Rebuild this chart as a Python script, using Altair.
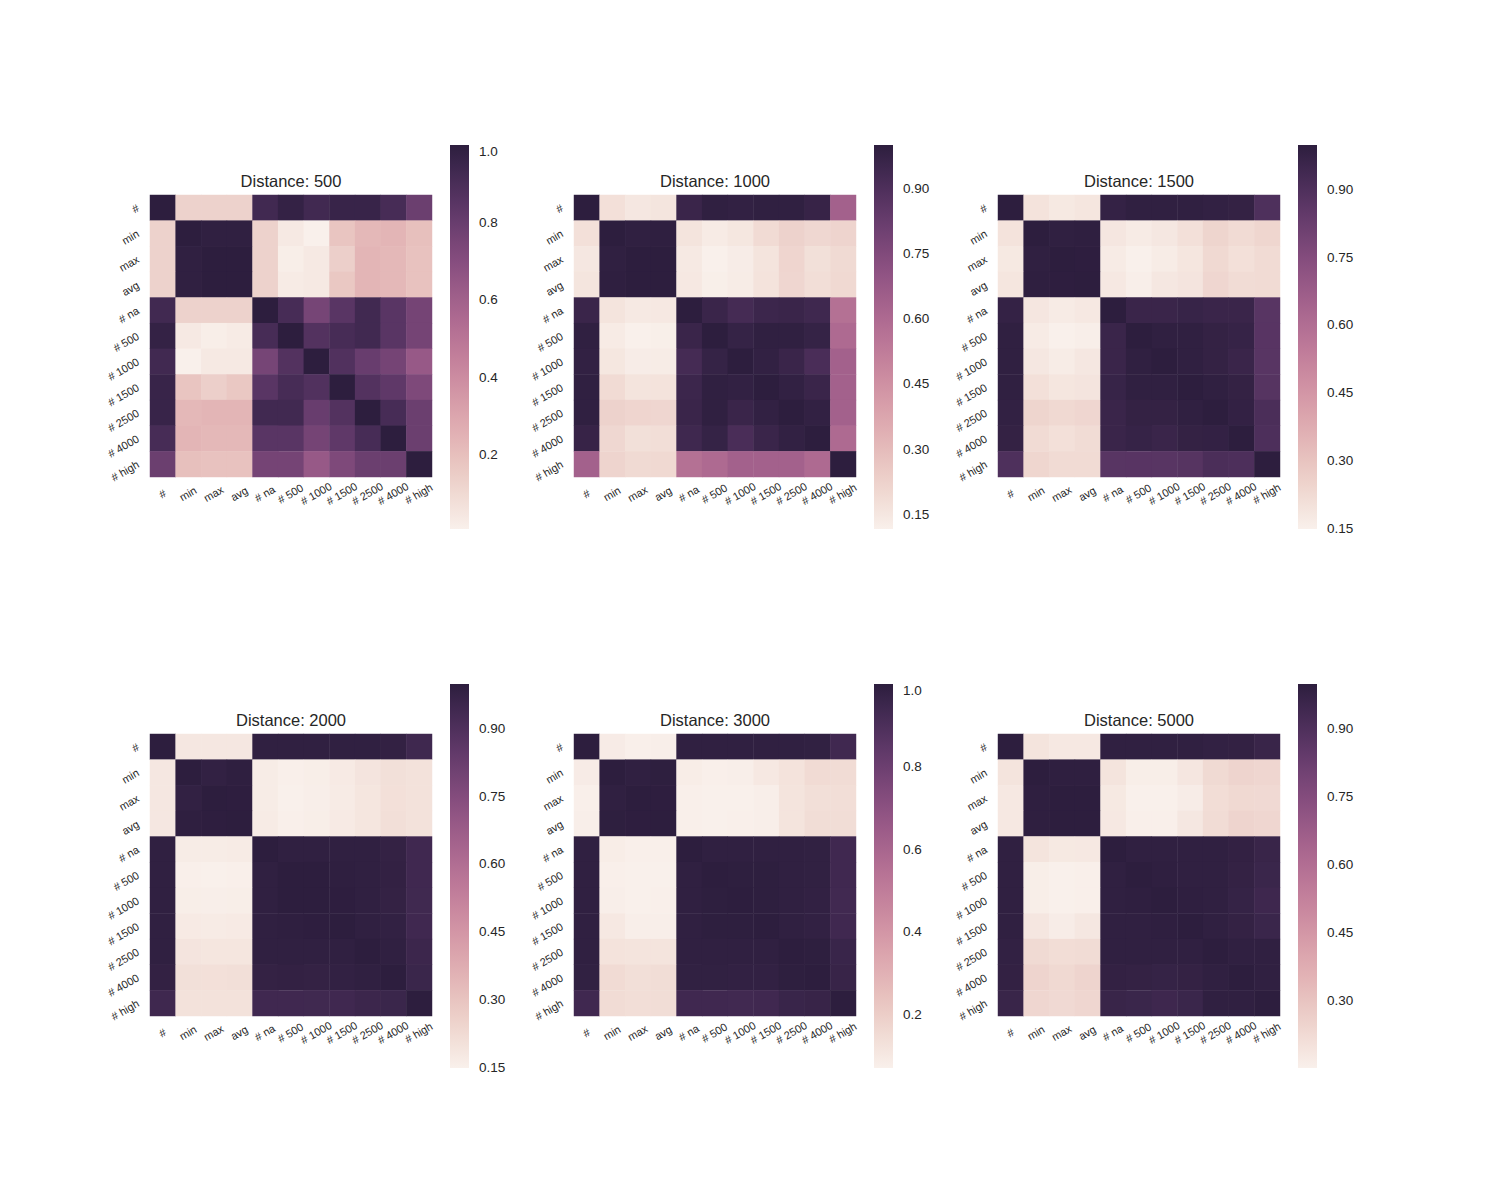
import altair as alt
import numpy as np
import pandas as pd

labels = ["#", "min", "max", "avg", "# na", "# 500", "# 1000", "# 1500", "# 2500", "# 4000", "# high"]
distances = [500, 1000, 1500, 2000, 3000, 5000]

# upper triangle of each (symmetric) correlation matrix, row i holds columns i+1..10
upper_500 = [
    [0.13, 0.13, 0.13, 0.93, 0.975, 0.93, 0.96, 0.96, 0.91, 0.79],
    [0.99, 0.99, 0.13, 0.04, 0.01, 0.18, 0.23, 0.24, 0.20],
    [1.00, 0.13, 0.02, 0.04, 0.14, 0.24, 0.23, 0.19],
    [0.13, 0.03, 0.04, 0.17, 0.24, 0.23, 0.19],
    [0.91, 0.755, 0.85, 0.93, 0.85, 0.76],
    [0.87, 0.91, 0.93, 0.85, 0.76],
    [0.875, 0.80, 0.76, 0.64],
    [0.87, 0.83, 0.73],
    [0.91, 0.79],
    [0.79],
]
upper_1000 = [
    [0.175, 0.15, 0.16, 0.96, 0.99, 0.985, 0.99, 0.99, 0.97, 0.64],
    [0.99, 0.995, 0.164, 0.136, 0.153, 0.193, 0.225, 0.206, 0.217],
    [1.00, 0.144, 0.118, 0.132, 0.164, 0.214, 0.178, 0.196],
    [0.148, 0.123, 0.134, 0.167, 0.21, 0.185, 0.20],
    [0.96, 0.926, 0.955, 0.96, 0.945, 0.573],
    [0.975, 0.99, 0.99, 0.975, 0.60],
    [0.985, 0.96, 0.912, 0.64],
    [0.985, 0.96, 0.64],
    [0.985, 0.64],
    [0.60],
]
upper_1500 = [
    [0.194, 0.175, 0.185, 0.979, 0.99, 0.99, 0.99, 0.985, 0.98, 0.902],
    [0.99, 0.995, 0.184, 0.167, 0.181, 0.205, 0.243, 0.222, 0.24],
    [0.998, 0.167, 0.149, 0.165, 0.185, 0.229, 0.205, 0.222],
    [0.178, 0.155, 0.181, 0.19, 0.238, 0.22, 0.222],
    [0.962, 0.962, 0.97, 0.962, 0.962, 0.873],
    [0.99, 0.99, 0.98, 0.972, 0.875],
    [0.99, 0.98, 0.962, 0.873],
    [0.99, 0.98, 0.88],
    [0.982, 0.91],
    [0.905],
]
upper_2000 = [
    [0.181, 0.181, 0.181, 0.99, 0.99, 0.99, 0.99, 0.99, 0.983, 0.947],
    [0.985, 0.995, 0.164, 0.152, 0.157, 0.17, 0.19, 0.207, 0.20],
    [0.998, 0.164, 0.149, 0.155, 0.167, 0.185, 0.205, 0.20],
    [0.167, 0.151, 0.157, 0.17, 0.185, 0.21, 0.20],
    [0.99, 0.99, 0.99, 0.99, 0.98, 0.945],
    [1.00, 0.995, 0.99, 0.983, 0.945],
    [0.998, 0.99, 0.98, 0.943],
    [0.99, 0.985, 0.945],
    [0.99, 0.955],
    [0.96],
]
upper_3000 = [
    [0.09, 0.075, 0.08, 0.99, 0.99, 0.99, 0.99, 0.99, 0.985, 0.94],
    [0.99, 0.995, 0.084, 0.076, 0.08, 0.102, 0.124, 0.151, 0.15],
    [0.998, 0.074, 0.072, 0.073, 0.079, 0.118, 0.136, 0.14],
    [0.075, 0.073, 0.075, 0.08, 0.118, 0.145, 0.145],
    [0.99, 0.99, 0.99, 0.99, 0.985, 0.94],
    [0.995, 0.995, 0.99, 0.985, 0.94],
    [0.995, 0.99, 0.983, 0.935],
    [0.99, 0.983, 0.94],
    [0.995, 0.96],
    [0.965],
]
upper_5000 = [
    [0.195, 0.18, 0.18, 0.99, 0.99, 0.99, 0.99, 0.985, 0.983, 0.965],
    [0.995, 0.995, 0.194, 0.16, 0.16, 0.186, 0.227, 0.247, 0.24],
    [1.00, 0.178, 0.152, 0.153, 0.165, 0.218, 0.232, 0.23],
    [0.18, 0.155, 0.156, 0.183, 0.222, 0.247, 0.24],
    [0.99, 0.99, 0.99, 0.99, 0.983, 0.965],
    [0.995, 0.99, 0.99, 0.98, 0.96],
    [0.995, 0.99, 0.975, 0.95],
    [0.99, 0.98, 0.96],
    [0.99, 0.99],
    [0.99],
]
uppers = [upper_500, upper_1000, upper_1500, upper_2000, upper_3000, upper_5000]

tick_a = [0.2, 0.4, 0.6, 0.8, 1.0]
tick_b = [0.15, 0.30, 0.45, 0.60, 0.75, 0.90]
tick_c = [0.30, 0.45, 0.60, 0.75, 0.90]
panel_ticks = [(tick_a, ".1f"), (tick_b, ".2f"), (tick_b, ".2f"),
               (tick_b, ".2f"), (tick_a, ".1f"), (tick_c, ".2f")]

TEXT = "#262626"
FONT = "Liberation Sans"
N_STOPS = 17


def cubehelix_hex(x, start=0.0, rot=0.4, gamma=1.0, hue=0.8):
    xg = x ** gamma
    a = hue * xg * (1 - xg) / 2
    phi = 2 * np.pi * (start / 3 + rot * x)
    r = xg + a * (-0.14861 * np.cos(phi) + 1.78277 * np.sin(phi))
    g = xg + a * (-0.29227 * np.cos(phi) - 0.90649 * np.sin(phi))
    b = xg + a * (1.97294 * np.cos(phi))
    rgb = [int(round(min(max(c, 0), 1) * 255)) for c in (r, g, b)]
    return "#{:02x}{:02x}{:02x}".format(*rgb)


palette = [cubehelix_hex(x) for x in np.linspace(0.95, 0.15, N_STOPS)]


def panel(dist, upper, ticks, fmt):
    n = len(labels)
    m = np.eye(n)
    for i, row in enumerate(upper):
        for k, v in enumerate(row):
            j = i + 1 + k
            m[i, j] = v
            m[j, i] = v
    df = pd.DataFrame([
        {"row": labels[i], "col": labels[j], "value": float(m[i, j])}
        for i in range(n) for j in range(n)
    ])
    vmin, vmax = float(m.min()), float(m.max())
    dom = [float(d) for d in np.linspace(vmin, vmax, N_STOPS)]
    return alt.Chart(df).mark_rect(width=26.1, height=26.1).encode(
        x=alt.X("col:N", sort=labels,
                scale=alt.Scale(paddingInner=0, paddingOuter=0),
                axis=alt.Axis(title=None, labelAngle=-30, labelAlign="center",
                              labelBaseline="middle", labelPadding=17,
                              ticks=False, tickSize=0, domain=False,
                              labelFontSize=11, labelColor=TEXT, labelFont=FONT)),
        y=alt.Y("row:N", sort=labels,
                scale=alt.Scale(paddingInner=0, paddingOuter=0),
                axis=alt.Axis(title=None, labelAngle=-30, labelAlign="right",
                              labelBaseline="middle", labelPadding=12,
                              ticks=False, tickSize=0, domain=False,
                              labelFontSize=11, labelColor=TEXT, labelFont=FONT)),
        color=alt.Color("value:Q", scale=alt.Scale(domain=dom, range=palette),
                        legend=alt.Legend(type="gradient", orient="none",
                                          legendX=300, legendY=-50,
                                          title=None, direction="vertical",
                                          gradientLength=384, gradientThickness=19,
                                          gradientStrokeWidth=0,
                                          values=ticks, format=fmt,
                                          labelFontSize=13.5, labelColor=TEXT,
                                          labelFont=FONT, labelOffset=10,
                                          labelOverlap=False, padding=0)),
    ).properties(
        width=282, height=282,
        title=alt.TitleParams(f"Distance: {dist}", fontSize=16.5, fontWeight="normal",
                              color=TEXT, font=FONT, anchor="middle", frame="group",
                              offset=4, dy=49),
    )


panels = [panel(d, u, t[0], t[1]) for d, u, t in zip(distances, uppers, panel_ticks)]

chart = alt.concat(
    *panels, columns=3, spacing={"row": 257, "column": 142}, bounds="flush"
).resolve_scale(color="independent").resolve_legend(
    color="independent"
).configure_view(
    stroke=None
).properties(
    padding={"left": 97, "top": 137, "right": 5, "bottom": 5},
    background="white",
)

chart.save("out.html", embed_options={"renderer": "svg", "actions": False})
